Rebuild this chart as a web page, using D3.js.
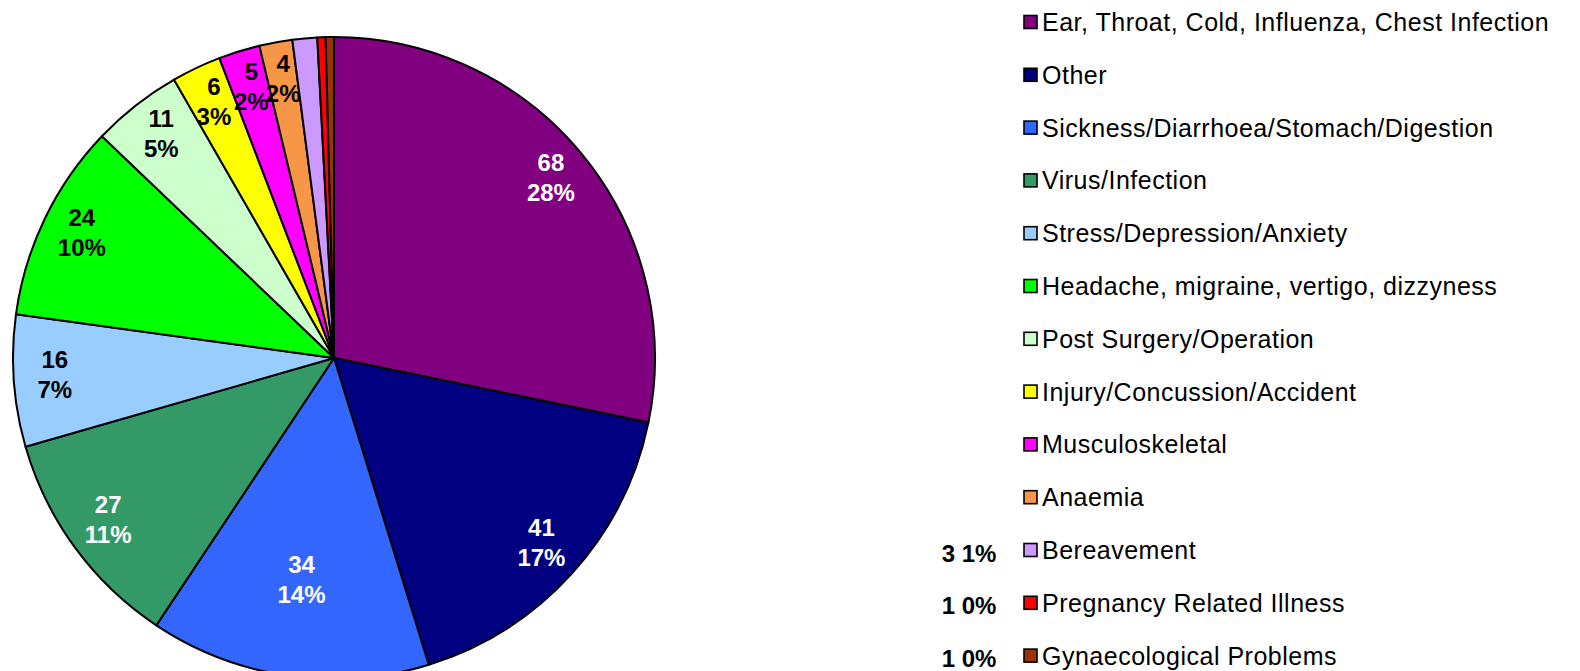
<!DOCTYPE html>
<html><head><meta charset="utf-8">
<script src="https://cdn.jsdelivr.net/npm/d3@7"></script>
<style>html,body{margin:0;padding:0;background:#fff;} svg{display:block;}</style>
</head><body>
<script>
const categories = [
  "Ear, Throat, Cold, Influenza, Chest Infection",
  "Other",
  "Sickness/Diarrhoea/Stomach/Digestion",
  "Virus/Infection",
  "Stress/Depression/Anxiety",
  "Headache, migraine, vertigo, dizzyness",
  "Post Surgery/Operation",
  "Injury/Concussion/Accident",
  "Musculoskeletal",
  "Anaemia",
  "Bereavement",
  "Pregnancy Related Illness",
  "Gynaecological Problems"
];
const values = [68, 41, 34, 27, 16, 24, 11, 6, 5, 4, 3, 1, 1];
const percentLabels = ["28%", "17%", "14%", "11%", "7%", "10%", "5%", "3%", "2%", "2%", "1%", "0%", "0%"];
const colors = ["#800080", "#000080", "#3366FF", "#339966", "#99CCFF", "#00FF00", "#CCFFCC",
                "#FFFF00", "#FF00FF", "#F79646", "#CC99FF", "#FF0000", "#993300"];
const labelColors = ["#fff", "#fff", "#fff", "#fff", "#000", "#000", "#000",
                     "#000", "#000", "#000", "#000", "#000", "#000"];
const outsideLabel = [false, false, false, false, false, false, false, false, false, false, true, true, true];

const W = 1580, H = 671;
const cx = 334, cy = 358, R = 321;
const labelR = 280;
const lineGap = 30;

const svg = d3.select("body").append("svg").attr("width", W).attr("height", H);

const data = categories.map((c, i) => ({ name: c, value: values[i], pct: percentLabels[i], color: colors[i], lc: labelColors[i], out: outsideLabel[i], i }));

const pie = d3.pie().value(d => d.value).sort(null);
const arcs = pie(data);
const arc = d3.arc().innerRadius(0).outerRadius(R);

const g = svg.append("g").attr("transform", `translate(${cx},${cy})`);
g.selectAll("path").data(arcs).enter().append("path")
  .attr("d", arc)
  .attr("fill", d => d.data.color)
  .attr("stroke", "#000")
  .attr("stroke-width", 2)
  .attr("stroke-linejoin", "round");

// in-slice labels
const labelFont = "bold 24px 'Liberation Sans', Arial, sans-serif";
const maxBlockY = H - 88 - cy;
arcs.filter(d => !d.data.out).forEach(d => {
  const a = (d.startAngle + d.endAngle) / 2;
  let r = labelR;
  const cosA = -Math.cos(a);
  if (r * cosA > maxBlockY) r = maxBlockY / cosA;
  const x = r * Math.sin(a), y = -r * Math.cos(a) - 4;
  const t = g.append("text")
    .attr("text-anchor", "middle")
    .style("font", labelFont)
    .attr("fill", d.data.lc);
  t.append("tspan").attr("x", x).attr("y", y - lineGap / 2).attr("dominant-baseline", "central").text(d.data.value);
  t.append("tspan").attr("x", x).attr("y", y + lineGap / 2).attr("dominant-baseline", "central").text(d.data.pct);
});

// legend
const legX = 1024, legY0 = 22, legStep = 52.8, sw = 13;
const leg = svg.append("g");
data.forEach((d, i) => {
  const y = legY0 + i * legStep;
  leg.append("rect").attr("x", legX).attr("y", y - sw / 2).attr("width", sw).attr("height", sw)
    .attr("fill", d.color).attr("stroke", "#000").attr("stroke-width", 1.6);
  leg.append("text").attr("x", legX + 18).attr("y", y).attr("dominant-baseline", "central")
    .style("font", "25px 'Liberation Sans', Arial, sans-serif").style("letter-spacing", "0.5px")
    .attr("fill", "#000").text(d.name);
  if (d.out) {
    leg.append("text").attr("x", legX - 55).attr("y", y + 3).attr("dominant-baseline", "central")
      .attr("text-anchor", "middle").style("font", labelFont).attr("fill", "#000")
      .text(d.value + " " + d.pct);
  }
});
</script>
</body></html>
